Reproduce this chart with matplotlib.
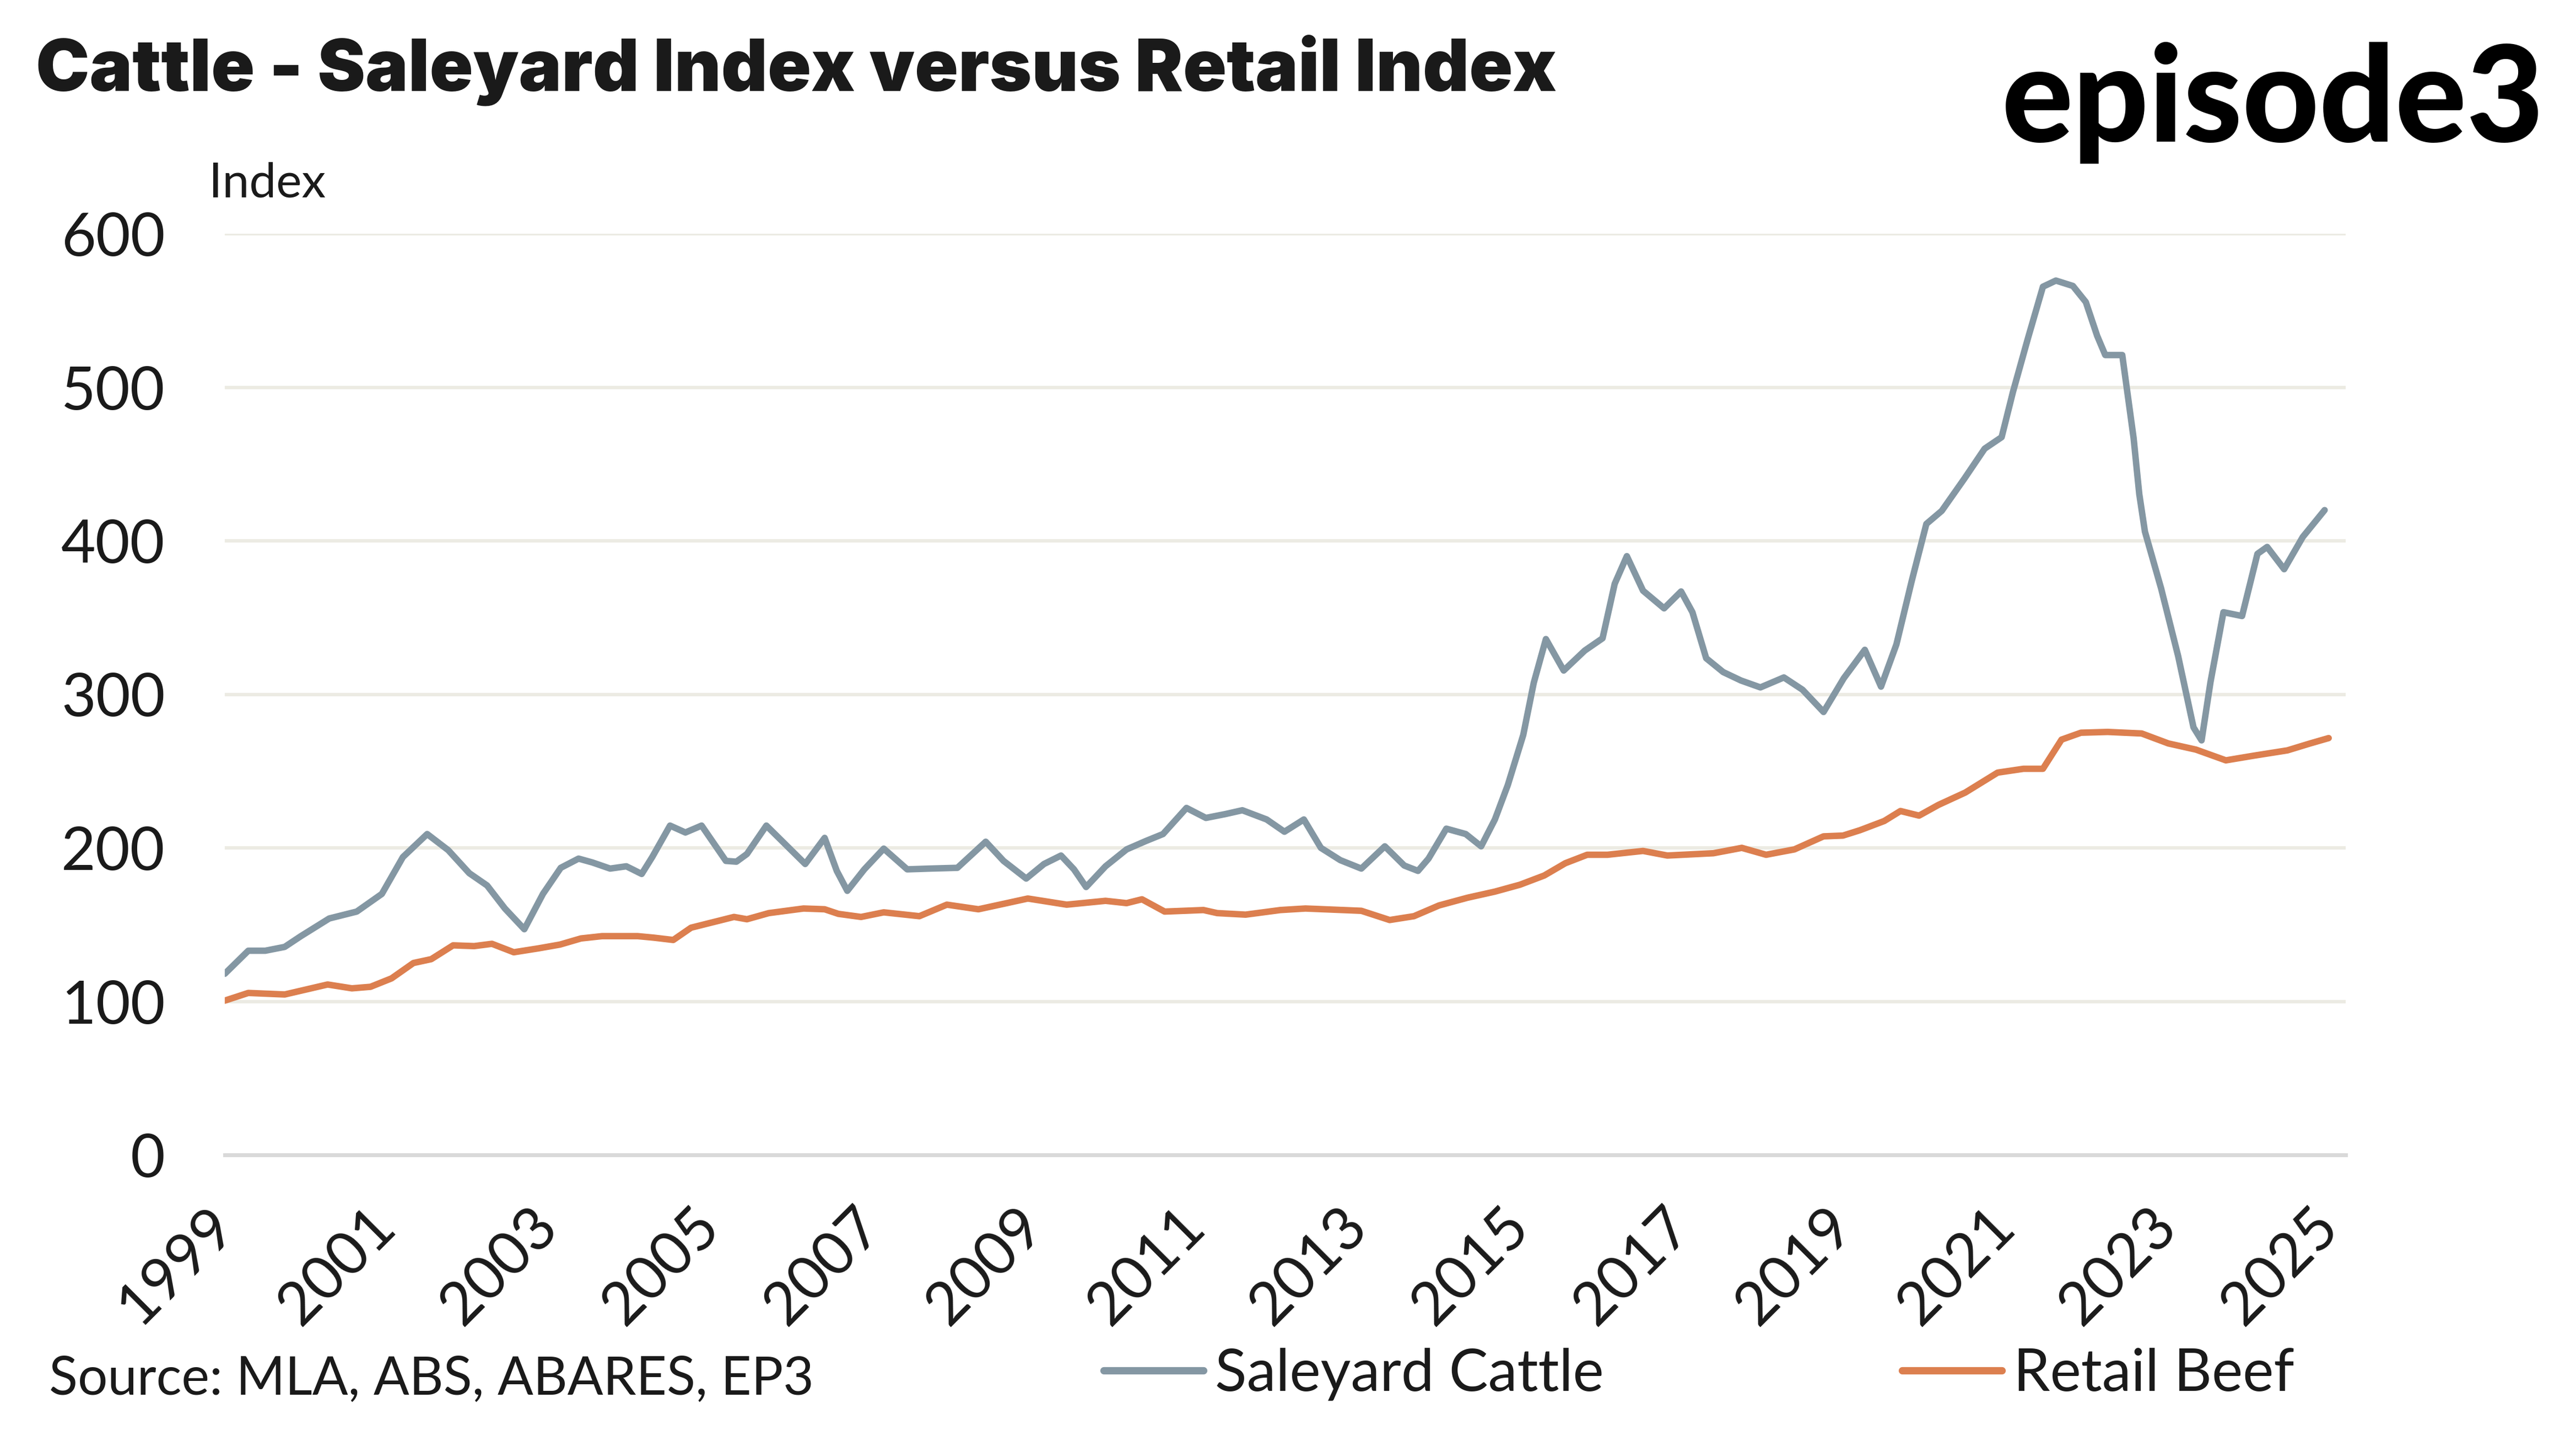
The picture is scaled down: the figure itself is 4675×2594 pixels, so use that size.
import matplotlib
matplotlib.use("Agg")
import matplotlib.pyplot as plt

plt.rcParams['font.family'] = ['Lato', 'DejaVu Sans']

# Saleyard cattle index (decimal year, value)
saleyard_x = [1999.00, 1999.29, 1999.50, 1999.74, 1999.94, 2000.29, 2000.63, 2000.94,
              2001.20, 2001.50, 2001.76, 2002.02, 2002.24, 2002.46, 2002.70, 2002.93,
              2003.15, 2003.37, 2003.54, 2003.76, 2003.96, 2004.15, 2004.28, 2004.50,
              2004.69, 2004.89, 2005.19, 2005.32, 2005.45, 2005.69, 2005.93, 2006.17,
              2006.41, 2006.56, 2006.69, 2006.90, 2007.14, 2007.43, 2007.71, 2008.05,
              2008.40, 2008.62, 2008.90, 2009.12, 2009.33, 2009.49, 2009.64, 2009.88,
              2010.14, 2010.38, 2010.59, 2010.88, 2011.12, 2011.36, 2011.57, 2011.87,
              2012.09, 2012.33, 2012.54, 2012.78, 2013.04, 2013.33, 2013.57, 2013.74,
              2013.87, 2014.09, 2014.33, 2014.52, 2014.69, 2014.85, 2015.04, 2015.17,
              2015.32, 2015.54, 2015.80, 2016.02, 2016.17, 2016.32, 2016.52, 2016.78,
              2016.99, 2017.13, 2017.30, 2017.51, 2017.73, 2017.97, 2018.26, 2018.49,
              2018.75, 2019.00, 2019.26, 2019.46, 2019.65, 2019.84, 2020.02, 2020.21,
              2020.49, 2020.74, 2020.95, 2021.09, 2021.27, 2021.46, 2021.62, 2021.83,
              2021.99, 2022.13, 2022.23, 2022.44, 2022.58, 2022.65, 2022.72, 2022.92,
              2023.13, 2023.32, 2023.42, 2023.53, 2023.69, 2023.92, 2024.11, 2024.23,
              2024.44, 2024.67, 2024.94]
saleyard_y = [118, 133, 133, 135.5, 142.5, 154, 158.5, 170,
              194, 209, 198.5, 183.5, 175.5, 160.5, 147, 170,
              187, 193, 190.5, 186.5, 188, 183, 194, 214.5,
              210, 214.5, 191.5, 191, 196, 214.5, 202, 189.5,
              206.5, 185, 172, 186, 199.5, 186, 186.5, 187,
              204, 191.5, 180, 189.5, 195, 186, 174.5, 188,
              199, 204.5, 209, 226, 219.5, 222, 224.5, 218.5,
              210.5, 218.5, 200, 192, 186.5, 201, 188.5, 185,
              193, 212.5, 209, 201, 218.5, 241, 273.5, 307.5,
              336, 315.5, 328.5, 336.5, 372, 390, 367.5, 356,
              367, 353.5, 323.5, 314.5, 309, 304.5, 311, 303,
              288.5, 310.5, 329, 305, 332.5, 374, 411, 419.5,
              440.5, 460, 467.5, 497, 531, 565.5, 569.5, 566,
              555.5, 533.5, 521, 521, 467, 430.5, 406, 369,
              325, 278.5, 270, 308, 353.5, 351, 391.5, 396,
              381.5, 402.5, 420]

# Retail beef index (decimal year, value)
retail_x = [1999.00, 1999.29, 1999.74, 2000.27, 2000.57, 2000.80, 2001.06, 2001.33,
            2001.55, 2001.82, 2002.08, 2002.30, 2002.57, 2002.87, 2003.14, 2003.40,
            2003.66, 2004.10, 2004.30, 2004.54, 2004.76, 2005.29, 2005.45, 2005.72,
            2006.15, 2006.41, 2006.58, 2006.86, 2007.14, 2007.58, 2007.92, 2008.31,
            2008.66, 2008.92, 2009.40, 2009.88, 2010.14, 2010.33, 2010.61, 2011.09,
            2011.26, 2011.61, 2012.04, 2012.35, 2013.04, 2013.39, 2013.69, 2014.00,
            2014.35, 2014.69, 2015.00, 2015.30, 2015.56, 2015.83, 2016.08, 2016.52,
            2016.82, 2017.39, 2017.74, 2018.04, 2018.39, 2018.75, 2018.99, 2019.20,
            2019.50, 2019.70, 2019.93, 2020.17, 2020.50, 2020.90, 2021.22, 2021.46,
            2021.69, 2021.93, 2022.26, 2022.68, 2023.01, 2023.35, 2023.72, 2024.06,
            2024.48, 2024.76, 2024.99]
retail_y = [100.5, 105.5, 104.5, 111, 108.5, 109.5, 115, 125,
            127.5, 136.5, 136, 137.5, 132, 134.5, 137, 141,
            142.5, 142.5, 141.5, 140, 148, 155, 153.5, 157.5,
            160.5, 160, 157, 155, 158, 155.5, 163, 160,
            164, 167, 163, 165.5, 164, 166.5, 158.5, 159.5,
            157.5, 156.5, 159.5, 160.5, 159, 153, 155.5, 162.5,
            167.5, 171.5, 176, 182, 190, 195.5, 195.5, 198,
            195, 196.5, 200, 195.5, 199, 207.5, 208, 211.5,
            217.5, 224, 221, 228, 236, 249, 251.5, 251.5,
            270.5, 275, 275.5, 274.5, 268, 264, 257, 260,
            263.5, 268, 271.5]

year_ticks = list(range(1999, 2026, 2))
y_ticks = [0, 100, 200, 300, 400, 500, 600]

W, H = 4675, 2594
fig = plt.figure(figsize=(W / 300, H / 300), dpi=300)
ax = fig.add_axes([408 / W, 1 - 2095 / H, (4257 - 408) / W, (2095 - 424) / H])

ax.plot(saleyard_x, saleyard_y, color='#8497a3', lw=2.8, label='Saleyard Cattle',
        solid_joinstyle='round', solid_capstyle='round')
ax.plot(retail_x, retail_y, color='#dc7f4f', lw=2.8, label='Retail Beef',
        solid_joinstyle='round', solid_capstyle='round')

ax.set_xlim(1999, 2025.2)
ax.set_ylim(0, 600)
ax.set_yticks(y_ticks)
ax.set_xticks(year_ticks)
ax.set_xticklabels([str(y) for y in year_ticks], rotation=45, ha='right', va='center',
                   rotation_mode='anchor', fontsize=26, color='#1a1a1a')
ax.tick_params(axis='y', length=0, pad=26, labelsize=26, labelcolor='#1a1a1a')
ax.tick_params(axis='x', length=0, pad=27)
ax.grid(axis='y', color='#ecebe3', lw=1.5)
ax.set_axisbelow(True)
for s in ['top', 'right', 'left']:
    ax.spines[s].set_visible(False)
ax.spines['bottom'].set_color('#d9d9d9')
ax.spines['bottom'].set_linewidth(1.7)

fig.text(65 / W, 1 - 165 / H, 'Cattle - Saleyard Index versus Retail Index',
         fontsize=31.3, fontweight='black', family=['Inter', 'DejaVu Sans'],
         color='#1a1a1a', va='baseline')
fig.text(4617 / W, 1 - 257 / H, 'episode3', fontsize=58, fontweight='black',
         color='black', ha='right', va='baseline')
fig.text(379 / W, 1 - 358 / H, 'Index', fontsize=21, color='#1a1a1a', va='baseline')
fig.text(89 / W, 1 - 2530 / H, 'Source: MLA, ABS, ABARES, EP3', fontsize=23,
         color='#1a1a1a', va='baseline')

leg = fig.legend(loc='center left', bbox_to_anchor=(2003 / W, 1 - 2493 / H), ncol=2,
                 frameon=False, fontsize=25.5, handlelength=1.7, handletextpad=0.2,
                 columnspacing=5.1, borderpad=0, borderaxespad=0)
for t in leg.get_texts():
    t.set_color('#1a1a1a')
for l in leg.get_lines():
    l.set_linewidth(3.2)

fig.savefig('out.png', dpi=300)
